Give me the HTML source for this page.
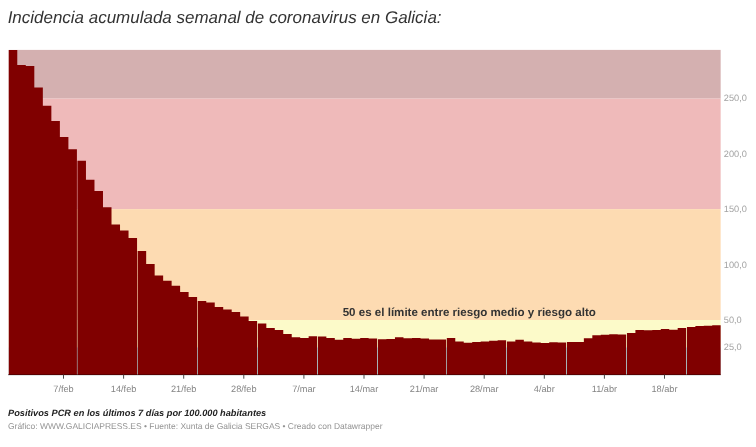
<!DOCTYPE html>
<html><head><meta charset="utf-8"><title>Incidencia acumulada</title>
<style>
html,body{margin:0;padding:0;background:#fff;}
body{width:756px;height:447px;overflow:hidden;font-family:"Liberation Sans",sans-serif;}
svg{display:block;font-family:"Liberation Sans",sans-serif;}
</style></head><body>
<svg style="will-change:transform;text-rendering:geometricPrecision" width="756" height="447" viewBox="0 0 756 447">
<rect width="756" height="447" fill="#fff"/>
<text x="7.65" y="23.4" font-size="16.975" font-style="italic" fill="#333">Incidencia acumulada semanal de coronavirus en Galicia:</text>
<rect x="8.75" y="49.9" width="711.9" height="48.699999999999996" fill="#d4b0b0"/>
<rect x="8.75" y="98.6" width="711.9" height="110.5" fill="#efbaba"/>
<rect x="8.75" y="209.1" width="711.9" height="110.9" fill="#fddbb2"/>
<rect x="8.75" y="320.0" width="711.9" height="27.399999999999977" fill="#fcfac9"/>
<rect x="8.75" y="347.4" width="711.9" height="27.600000000000023" fill="#b0dde0"/>
<path fill="#800000" d="M8.75,375.0L8.75,49.9L17.27,49.9L17.27,64.9L25.79,64.9L25.79,66.1L34.31,66.1L34.31,87.6L42.84,87.6L42.84,105.8L51.36,105.8L51.36,120.9L59.88,120.9L59.88,137.1L68.40,137.1L68.40,149.2L76.92,149.2L76.92,375.0ZM77.45,375.0L77.45,160.8L85.96,160.8L85.96,179.7L94.48,179.7L94.48,191.0L102.99,191.0L102.99,207.2L111.51,207.2L111.51,224.6L120.02,224.6L120.02,230.5L128.54,230.5L128.54,238.0L137.05,238.0L137.05,375.0ZM137.68,375.0L137.68,251.0L146.17,251.0L146.17,264.0L154.66,264.0L154.66,275.6L163.15,275.6L163.15,280.8L171.63,280.8L171.63,285.8L180.12,285.8L180.12,291.9L188.61,291.9L188.61,296.9L197.10,296.9L197.10,375.0ZM197.80,375.0L197.80,300.9L206.27,300.9L206.27,302.5L214.75,302.5L214.75,306.9L223.22,306.9L223.22,309.4L231.70,309.4L231.70,312.0L240.18,312.0L240.18,316.5L248.65,316.5L248.65,321.0L257.12,321.0L257.12,375.0ZM257.88,375.0L257.88,323.6L266.34,323.6L266.34,328.1L274.80,328.1L274.80,330.0L283.26,330.0L283.26,334.0L291.72,334.0L291.72,337.2L300.18,337.2L300.18,337.9L308.64,337.9L308.64,336.3L317.10,336.3L317.10,375.0ZM317.90,375.0L317.90,336.5L326.36,336.5L326.36,338.0L334.81,338.0L334.81,339.8L343.27,339.8L343.27,338.1L351.73,338.1L351.73,338.8L360.19,338.8L360.19,338.0L368.64,338.0L368.64,338.4L377.10,338.4L377.10,375.0ZM377.90,375.0L377.90,339.3L386.42,339.3L386.42,339.1L394.95,339.1L394.95,337.2L403.47,337.2L403.47,338.3L412.00,338.3L412.00,337.9L420.52,337.9L420.52,338.5L429.05,338.5L429.05,339.4L437.57,339.4L437.57,339.6L446.10,339.6L446.10,375.0ZM446.80,375.0L446.80,338.1L455.27,338.1L455.27,341.4L463.74,341.4L463.74,342.7L472.21,342.7L472.21,342.0L480.69,342.0L480.69,341.4L489.16,341.4L489.16,340.7L497.63,340.7L497.63,340.2L506.10,340.2L506.10,375.0ZM506.90,375.0L506.90,341.4L515.36,341.4L515.36,339.7L523.83,339.7L523.83,341.4L532.29,341.4L532.29,342.6L540.76,342.6L540.76,342.9L549.22,342.9L549.22,342.2L557.69,342.2L557.69,342.5L566.15,342.5L566.15,375.0ZM566.95,375.0L566.95,341.9L575.41,341.9L575.41,342.1L583.86,342.1L583.86,338.2L592.32,338.2L592.32,335.2L600.78,335.2L600.78,334.7L609.24,334.7L609.24,334.2L617.69,334.2L617.69,334.5L626.15,334.5L626.15,375.0ZM626.95,375.0L626.95,333.1L635.41,333.1L635.41,329.9L643.86,329.9L643.86,330.3L652.32,330.3L652.32,330.0L660.78,330.0L660.78,329.1L669.24,329.1L669.24,329.8L677.69,329.8L677.69,328.1L686.15,328.1L686.15,375.0ZM686.95,375.0L686.95,327.0L695.38,327.0L695.38,326.1L703.80,326.1L703.80,325.8L712.22,325.8L712.22,325.2L720.65,325.2L720.65,375.0Z"/>
<rect x="8.05" y="374.5" width="712.6" height="0.65" fill="#300"/>
<rect x="8.05" y="375.15" width="712.6" height="0.7" fill="#e3eaec"/>
<rect x="63.00" y="374.6" width="1" height="4.1" fill="#4a4a4a"/><text x="63.50" y="392" text-anchor="middle" font-size="9.2" fill="#848484">7/feb</text><rect x="123.10" y="374.6" width="1" height="4.1" fill="#4a4a4a"/><text x="123.60" y="392" text-anchor="middle" font-size="9.2" fill="#848484">14/feb</text><rect x="183.20" y="374.6" width="1" height="4.1" fill="#4a4a4a"/><text x="183.70" y="392" text-anchor="middle" font-size="9.2" fill="#848484">21/feb</text><rect x="243.30" y="374.6" width="1" height="4.1" fill="#4a4a4a"/><text x="243.80" y="392" text-anchor="middle" font-size="9.2" fill="#848484">28/feb</text><rect x="303.40" y="374.6" width="1" height="4.1" fill="#4a4a4a"/><text x="303.90" y="392" text-anchor="middle" font-size="9.2" fill="#848484">7/mar</text><rect x="363.50" y="374.6" width="1" height="4.1" fill="#4a4a4a"/><text x="364.00" y="392" text-anchor="middle" font-size="9.2" fill="#848484">14/mar</text><rect x="423.60" y="374.6" width="1" height="4.1" fill="#4a4a4a"/><text x="424.10" y="392" text-anchor="middle" font-size="9.2" fill="#848484">21/mar</text><rect x="483.70" y="374.6" width="1" height="4.1" fill="#4a4a4a"/><text x="484.20" y="392" text-anchor="middle" font-size="9.2" fill="#848484">28/mar</text><rect x="543.80" y="374.6" width="1" height="4.1" fill="#4a4a4a"/><text x="544.30" y="392" text-anchor="middle" font-size="9.2" fill="#848484">4/abr</text><rect x="603.90" y="374.6" width="1" height="4.1" fill="#4a4a4a"/><text x="604.40" y="392" text-anchor="middle" font-size="9.2" fill="#848484">11/abr</text><rect x="664.00" y="374.6" width="1" height="4.1" fill="#4a4a4a"/><text x="664.50" y="392" text-anchor="middle" font-size="9.2" fill="#848484">18/abr</text>
<text x="723.8" y="101.30" font-size="9.2" fill="#a2a2a2">250,0</text><text x="723.8" y="156.60" font-size="9.2" fill="#a2a2a2">200,0</text><text x="723.8" y="211.80" font-size="9.2" fill="#a2a2a2">150,0</text><text x="723.8" y="267.60" font-size="9.2" fill="#a2a2a2">100,0</text><text x="723.8" y="322.70" font-size="9.2" fill="#a2a2a2">50,0</text><text x="723.8" y="350.10" font-size="9.2" fill="#a2a2a2">25,0</text>
<text x="342.7" y="315.7" font-size="11.578" font-weight="bold" fill="#333">50 es el límite entre riesgo medio y riesgo alto</text>
<text x="8" y="415.55" font-size="9.235" font-weight="bold" font-style="italic" fill="#222">Positivos PCR en los últimos 7 días por 100.000 habitantes</text>
<text x="8" y="429.0" font-size="8.485" fill="#939393">Gráfico: WWW.GALICIAPRESS.ES • Fuente: Xunta de Galicia SERGAS • Creado con Datawrapper</text>
</svg>
</body></html>
